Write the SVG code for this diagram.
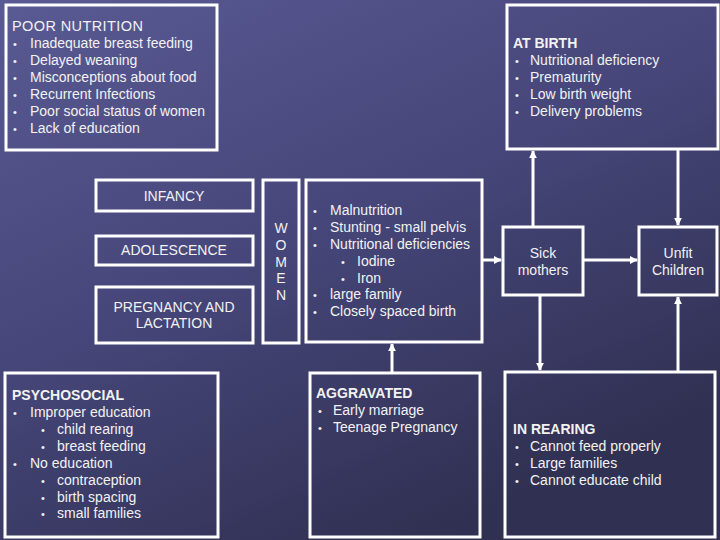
<svg xmlns="http://www.w3.org/2000/svg" width="720" height="540" viewBox="0 0 720 540">
<defs>
<linearGradient id="bg" x1="0" y1="0" x2="0.6" y2="1">
<stop offset="0" stop-color="#5a5a94"/>
<stop offset="0.5" stop-color="#46467a"/>
<stop offset="1" stop-color="#303052"/>
</linearGradient>
<marker id="ah" viewBox="0 0 10 10" refX="9" refY="5" markerWidth="2.7" markerHeight="2.7" orient="auto" markerUnits="strokeWidth">
<path d="M0,0 L10,5 L0,10 z" fill="#ffffff"/>
</marker>
<style>
.box{fill:none;stroke:#ffffff;stroke-width:3}
.t{font-family:"Liberation Sans",Arial,sans-serif;font-size:14px;fill:#f2f2f2}
.b{font-size:11px}
.h{font-weight:bold}
.ti{font-size:14.5px;letter-spacing:0.4px}
.c{text-anchor:middle}
.con{stroke:#ffffff;stroke-width:3;fill:none;marker-end:url(#ah)}
</style>
</defs>
<rect x="0" y="0" width="720" height="540" fill="url(#bg)"/>

<g id="poor-nutrition">
<rect class="box" x="6" y="5" width="211" height="145"/>
<text class="t ti" x="12" y="31">POOR NUTRITION</text>
<text class="t b" x="13" y="48">•</text><text class="t" x="30" y="48">Inadequate breast feeding</text>
<text class="t b" x="13" y="65">•</text><text class="t" x="30" y="65">Delayed weaning</text>
<text class="t b" x="13" y="82">•</text><text class="t" x="30" y="82">Misconceptions about food</text>
<text class="t b" x="13" y="99">•</text><text class="t" x="30" y="99">Recurrent Infections</text>
<text class="t b" x="13" y="116">•</text><text class="t" x="30" y="116">Poor social status of women</text>
<text class="t b" x="13" y="133">•</text><text class="t" x="30" y="133">Lack of education</text>
</g>

<g id="at-birth">
<rect class="box" x="507" y="5" width="211" height="144"/>
<text class="t h" x="513" y="48">AT BIRTH</text>
<text class="t b" x="515" y="65">•</text><text class="t" x="530" y="65">Nutritional deficiency</text>
<text class="t b" x="515" y="82">•</text><text class="t" x="530" y="82">Prematurity</text>
<text class="t b" x="515" y="99">•</text><text class="t" x="530" y="99">Low birth weight</text>
<text class="t b" x="515" y="116">•</text><text class="t" x="530" y="116">Delivery problems</text>
</g>

<g id="infancy">
<rect class="box" x="96" y="180" width="157" height="31"/>
<text class="t c" x="174" y="201">INFANCY</text>
</g>

<g id="adolescence">
<rect class="box" x="96" y="236" width="157" height="29"/>
<text class="t c" x="174" y="255">ADOLESCENCE</text>
</g>

<g id="pregnancy">
<rect class="box" x="96" y="287" width="157" height="56"/>
<text class="t c" x="174" y="312">PREGNANCY AND</text>
<text class="t c" x="174" y="328">LACTATION</text>
</g>

<g id="women">
<rect class="box" x="263" y="180" width="36" height="163"/>
<text class="t c" x="281" y="233">W</text>
<text class="t c" x="281" y="250">O</text>
<text class="t c" x="281" y="267">M</text>
<text class="t c" x="281" y="283">E</text>
<text class="t c" x="281" y="300">N</text>
</g>

<g id="effects">
<rect class="box" x="306" y="180" width="176" height="162"/>
<text class="t b" x="313" y="215">•</text><text class="t" x="330" y="215">Malnutrition</text>
<text class="t b" x="313" y="232">•</text><text class="t" x="330" y="232">Stunting - small pelvis</text>
<text class="t b" x="313" y="249">•</text><text class="t" x="330" y="249">Nutritional deficiencies</text>
<text class="t b" x="341" y="266">•</text><text class="t" x="357" y="266">Iodine</text>
<text class="t b" x="341" y="283">•</text><text class="t" x="357" y="283">Iron</text>
<text class="t b" x="313" y="299">•</text><text class="t" x="330" y="299">large family</text>
<text class="t b" x="313" y="316">•</text><text class="t" x="330" y="316">Closely spaced birth</text>
</g>

<g id="sick-mothers">
<rect class="box" x="503" y="227" width="80" height="68"/>
<text class="t c" x="543" y="258">Sick</text>
<text class="t c" x="543" y="275">mothers</text>
</g>

<g id="unfit-children">
<rect class="box" x="639" y="227" width="78" height="68"/>
<text class="t c" x="678" y="258">Unfit</text>
<text class="t c" x="678" y="275">Children</text>
</g>

<g id="psychosocial">
<rect class="box" x="5" y="373" width="213" height="164"/>
<text class="t h" x="12" y="400">PSYCHOSOCIAL</text>
<text class="t b" x="13" y="417">•</text><text class="t" x="30" y="417">Improper education</text>
<text class="t b" x="41" y="434">•</text><text class="t" x="57" y="434">child rearing</text>
<text class="t b" x="41" y="451">•</text><text class="t" x="57" y="451">breast feeding</text>
<text class="t b" x="13" y="468">•</text><text class="t" x="30" y="468">No education</text>
<text class="t b" x="41" y="485">•</text><text class="t" x="57" y="485">contraception</text>
<text class="t b" x="41" y="502">•</text><text class="t" x="57" y="502">birth spacing</text>
<text class="t b" x="41" y="518">•</text><text class="t" x="57" y="518">small families</text>
</g>

<g id="aggravated">
<rect class="box" x="310" y="373" width="170" height="164"/>
<text class="t h" x="316" y="398">AGGRAVATED</text>
<text class="t b" x="318" y="415">•</text><text class="t" x="333" y="415">Early marriage</text>
<text class="t b" x="318" y="432">•</text><text class="t" x="333" y="432">Teenage Pregnancy</text>
</g>

<g id="in-rearing">
<rect class="box" x="505" y="372" width="210" height="165"/>
<text class="t h" x="513" y="434">IN REARING</text>
<text class="t b" x="515" y="451">•</text><text class="t" x="530" y="451">Cannot feed properly</text>
<text class="t b" x="515" y="468">•</text><text class="t" x="530" y="468">Large families</text>
<text class="t b" x="515" y="485">•</text><text class="t" x="530" y="485">Cannot educate child</text>
</g>

<g id="connectors">
<line class="con" x1="533" y1="227" x2="533" y2="151"/>
<line class="con" x1="678" y1="149" x2="678" y2="225"/>
<line class="con" x1="482" y1="260" x2="501" y2="260"/>
<line class="con" x1="583" y1="260" x2="637" y2="260"/>
<line class="con" x1="540" y1="295" x2="540" y2="370"/>
<line class="con" x1="678" y1="372" x2="678" y2="297"/>
<line class="con" x1="392" y1="373" x2="392" y2="344"/>
</g>
</svg>
